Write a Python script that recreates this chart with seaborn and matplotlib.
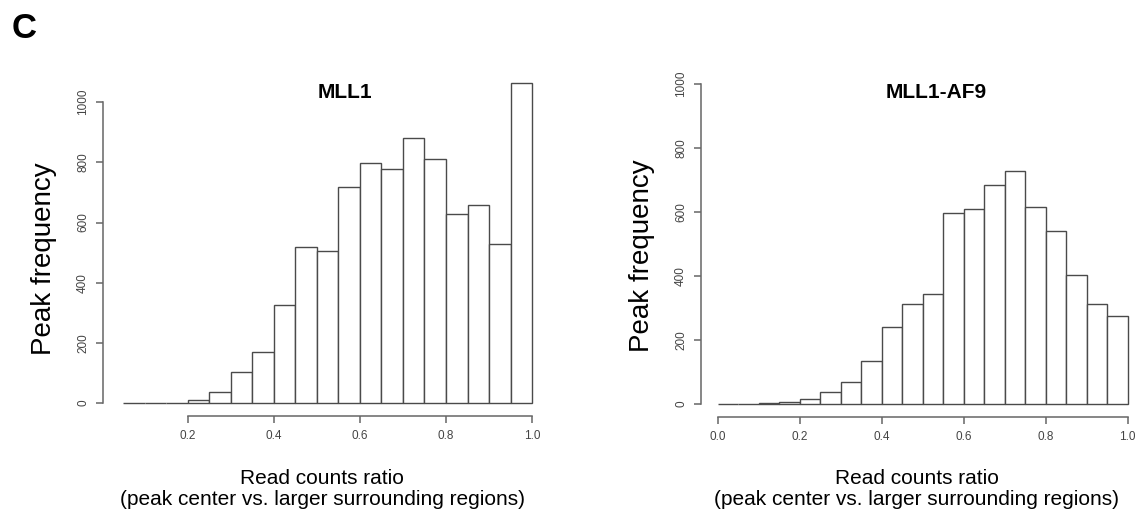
import numpy as np
import pandas as pd
import seaborn as sns
import matplotlib.pyplot as plt

# bin edges (width 0.05) and bar heights
mll1_edges = [0.05, 0.10, 0.15, 0.20, 0.25, 0.30, 0.35, 0.40, 0.45, 0.50,
              0.55, 0.60, 0.65, 0.70, 0.75, 0.80, 0.85, 0.90, 0.95, 1.00]
mll1_counts = [2, 0, 2, 10, 37, 102, 171, 325, 518, 504,
               718, 797, 778, 880, 811, 627, 658, 529, 1065]

af9_edges = [0.00, 0.05, 0.10, 0.15, 0.20, 0.25, 0.30, 0.35, 0.40, 0.45, 0.50,
             0.55, 0.60, 0.65, 0.70, 0.75, 0.80, 0.85, 0.90, 0.95, 1.00]
af9_counts = [2, 0, 3, 7, 17, 37, 68, 134, 240, 313, 343,
              598, 610, 683, 729, 616, 540, 403, 313, 274]

x_ticks_mll1 = [0.2, 0.4, 0.6, 0.8, 1.0]
x_ticks_af9 = [0.0, 0.2, 0.4, 0.6, 0.8, 1.0]
y_ticks = [0, 200, 400, 600, 800, 1000]

sns.set_style("white")
plt.rcParams['font.family'] = ['Liberation Sans', 'DejaVu Sans']
plt.rcParams['text.color'] = 'black'

W, H = 1140, 514
fig = plt.figure(figsize=(W / 100, H / 100), dpi=100)


def px_axes(left, top, right, bottom):
    return fig.add_axes([left / W, 1 - bottom / H, (right - left) / W, (bottom - top) / H])


def draw_hist(ax, edges, counts, xticks, xlim, ylim):
    df = pd.DataFrame({'mid': (np.array(edges[:-1]) + np.array(edges[1:])) / 2,
                       'n': counts})
    sns.histplot(data=df, x='mid', weights='n', bins=edges, ax=ax,
                 color='white', edgecolor='#4a4a4a', linewidth=1.0, alpha=1)
    ax.set_xlim(*xlim)
    ax.set_ylim(*ylim)
    ax.set_xlabel('')
    ax.set_ylabel('')
    for s in ['top', 'right']:
        ax.spines[s].set_visible(False)
    for s in ['left', 'bottom']:
        ax.spines[s].set_color('#666666')
        ax.spines[s].set_linewidth(1.1)
    ax.spines['left'].set_bounds(0, 1000)
    ax.spines['bottom'].set_bounds(xticks[0], xticks[-1])
    ax.set_xticks(xticks)
    ax.set_xticklabels([f'{t:.1f}' for t in xticks])
    ax.set_yticks(y_ticks)
    ax.set_yticklabels([str(t) for t in y_ticks], rotation=90, va='center')
    ax.tick_params(axis='both', bottom=True, left=True, length=5, width=1.1,
                   color='#666666', labelsize=8.5, labelcolor='#444444',
                   direction='out')
    ax.tick_params(axis='x', pad=5)
    ax.tick_params(axis='y', pad=5)
    ax.grid(False)


ax1 = px_axes(103, 69, 548, 416)
draw_hist(ax1, mll1_edges, mll1_counts, x_ticks_mll1, (0.003, 1.037), (-42.7, 1110))

ax2 = px_axes(701, 71, 1140, 417)
draw_hist(ax2, af9_edges, af9_counts, x_ticks_af9, (-0.041, 1.03), (-40, 1040))

# panel letter, titles and axis labels
fig.text(12 / W, 1 - 28 / H, 'C', fontsize=25, fontweight='bold', va='center', ha='left')
fig.text(345 / W, 1 - 93 / H, 'MLL1', fontsize=15, fontweight='bold', ha='center', va='center')
fig.text(936 / W, 1 - 93 / H, 'MLL1-AF9', fontsize=15, fontweight='bold', ha='center', va='center')

for cx, cy in [(44, 259), (642, 256)]:
    fig.text(cx / W, 1 - cy / H, 'Peak frequency', fontsize=20, rotation=90,
             ha='center', va='center')

for cx in [322, 917]:
    fig.text(cx / W, 1 - 489 / H, 'Read counts ratio\n(peak center vs. larger surrounding regions)',
             fontsize=15, ha='center', va='center', linespacing=1.15)

fig.savefig('out.png', dpi=100, facecolor='white')
